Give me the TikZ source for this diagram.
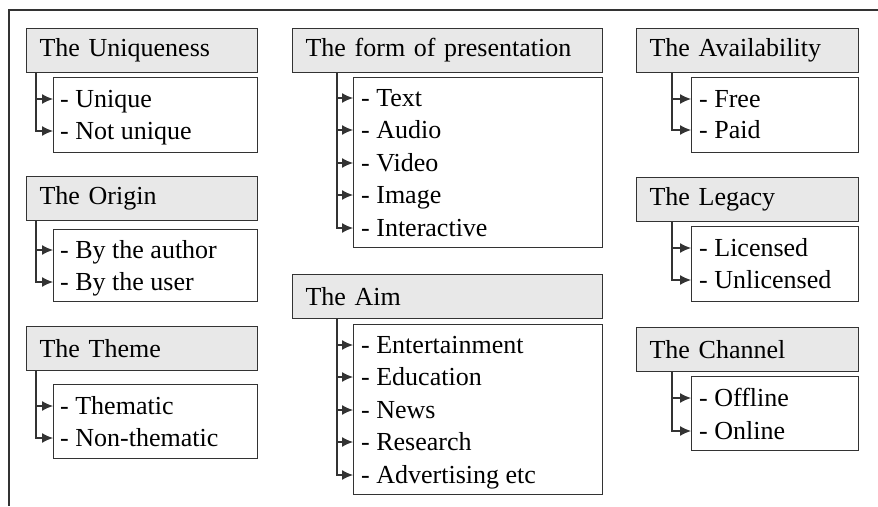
\documentclass[tikz,border=0pt]{standalone}
\usepackage{fontspec}
\setmainfont{Liberation Serif}
\usetikzlibrary{arrows.meta}
\definecolor{ln}{HTML}{333333}
\definecolor{hd}{HTML}{E8E8E8}
\begin{document}
\begin{tikzpicture}[x=1pt,y=-1pt,
  txt/.style={font=\fontsize{26}{30}\selectfont},
  hdr/.style={txt, draw=ln, fill=hd, line width=1.2pt, minimum height=44pt,
    inner xsep=13pt, inner ysep=0pt, anchor=north west, align=left},
  sub/.style={draw=ln, line width=1.2pt, fill=white, anchor=north west, inner sep=0pt},
  itm/.style={txt, anchor=base west, inner sep=0pt},
  con/.style={draw=ln, line width=1.2pt, -{Latex[length=11pt,width=10pt]}}]
\path[use as bounding box] (0,0) rectangle (878,506);
\draw[ln, line width=1.2pt] (878,10) -- (9,10) -- (9,506);

% ---------- Column 1 ----------
\node[hdr, text width=205pt] (h1) at (26,28) {The Uniqueness};
\node[sub, minimum width=204pt, minimum height=75pt] (c1) at (53,77) {};
\node[itm] (i1a) at (60,107) {- Unique};
\node[itm] (i1b) at (60,139) {- Not unique};
\draw[con] ([xshift=10pt]h1.south west) |- ([yshift=8pt]c1.west |- i1a.base);
\draw[con] ([xshift=10pt]h1.south west) |- ([yshift=8pt]c1.west |- i1b.base);

\node[hdr, text width=205pt] (h2) at (26,176) {The Origin};
\node[sub, minimum width=204pt, minimum height=72pt] (c2) at (53,229) {};
\node[itm] (i2a) at (60,258) {- By the author};
\node[itm] (i2b) at (60,290) {- By the user};
\draw[con] ([xshift=10pt]h2.south west) |- ([yshift=8pt]c2.west |- i2a.base);
\draw[con] ([xshift=10pt]h2.south west) |- ([yshift=8pt]c2.west |- i2b.base);

\node[hdr, text width=205pt] (h3) at (26,326) {The Theme};
\node[sub, minimum width=204pt, minimum height=74pt] (c3) at (53,384) {};
\node[itm] (i3a) at (60,414) {- Thematic};
\node[itm] (i3b) at (60,446) {- Non-thematic};
\draw[con] ([xshift=10pt]h3.south west) |- ([yshift=8pt]c3.west |- i3a.base);
\draw[con] ([xshift=10pt]h3.south west) |- ([yshift=8pt]c3.west |- i3b.base);

% ---------- Column 2 ----------
\node[hdr, text width=284pt] (h4) at (292,28) {The form of presentation};
\node[sub, minimum width=249pt, minimum height=170pt] (c4) at (353,77) {};
\node[itm] (i4a) at (361,106) {- Text};
\node[itm] (i4b) at (361,138) {- Audio};
\node[itm] (i4c) at (361,171) {- Video};
\node[itm] (i4d) at (361,203) {- Image};
\node[itm] (i4e) at (361,236) {- Interactive};
\foreach \k in {a,b,c,d,e}
  \draw[con] ([xshift=45pt]h4.south west) |- ([yshift=8pt]c4.west |- i4\k.base);

\node[hdr, text width=284pt] (h5) at (292,274) {The Aim};
\node[sub, minimum width=249pt, minimum height=170pt] (c5) at (353,324) {};
\node[itm] (i5a) at (361,353) {- Entertainment};
\node[itm] (i5b) at (361,385) {- Education};
\node[itm] (i5c) at (361,418) {- News};
\node[itm] (i5d) at (361,450) {- Research};
\node[itm] (i5e) at (361,483) {- Advertising etc};
\foreach \k in {a,b,c,d,e}
  \draw[con] ([xshift=45pt]h5.south west) |- ([yshift=8pt]c5.west |- i5\k.base);

% ---------- Column 3 ----------
\node[hdr, text width=196pt] (h6) at (636,28) {The Availability};
\node[sub, minimum width=167pt, minimum height=75pt] (c6) at (691,77) {};
\node[itm] (i6a) at (699,107) {- Free};
\node[itm] (i6b) at (699,138) {- Paid};
\draw[con] ([xshift=36pt]h6.south west) |- ([yshift=8pt]c6.west |- i6a.base);
\draw[con] ([xshift=36pt]h6.south west) |- ([yshift=8pt]c6.west |- i6b.base);

\node[hdr, text width=196pt] (h7) at (636,177) {The Legacy};
\node[sub, minimum width=167pt, minimum height=75pt] (c7) at (691,226) {};
\node[itm] (i7a) at (699,256) {- Licensed};
\node[itm] (i7b) at (699,288) {- Unlicensed};
\draw[con] ([xshift=36pt]h7.south west) |- ([yshift=8pt]c7.west |- i7a.base);
\draw[con] ([xshift=36pt]h7.south west) |- ([yshift=8pt]c7.west |- i7b.base);

\node[hdr, text width=196pt] (h8) at (636,327) {The Channel};
\node[sub, minimum width=167pt, minimum height=74pt] (c8) at (691,376) {};
\node[itm] (i8a) at (699,406) {- Offline};
\node[itm] (i8b) at (699,439) {- Online};
\draw[con] ([xshift=36pt]h8.south west) |- ([yshift=8pt]c8.west |- i8a.base);
\draw[con] ([xshift=36pt]h8.south west) |- ([yshift=8pt]c8.west |- i8b.base);
\end{tikzpicture}
\end{document}
